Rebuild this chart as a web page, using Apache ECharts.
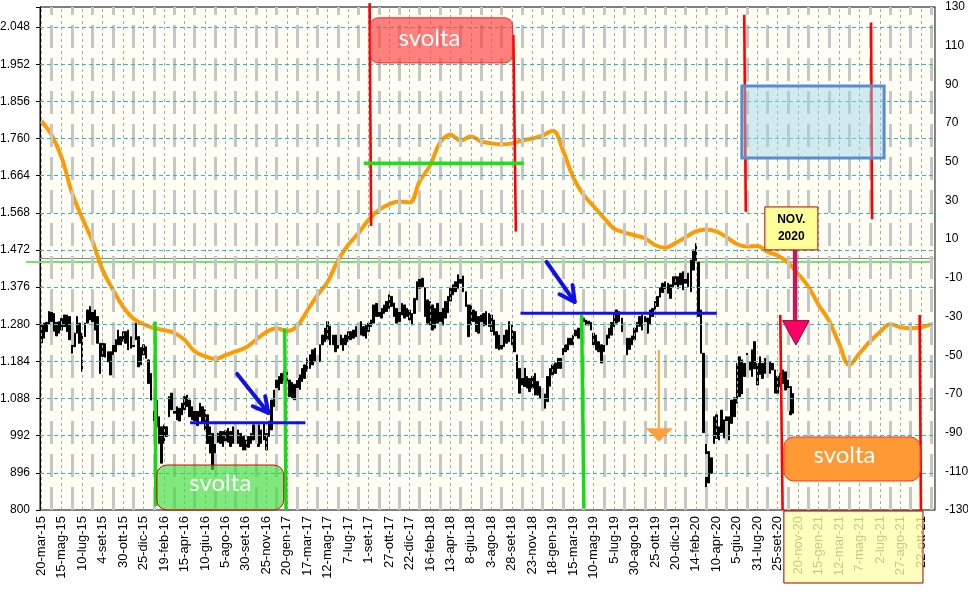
<!DOCTYPE html>
<html><head><meta charset="utf-8">
<script src="https://cdn.jsdelivr.net/npm/echarts@6/dist/echarts.min.js"></script>
<style>html,body{margin:0;padding:0;background:#fff}#c{width:968px;height:594px}</style>
</head><body><div id="c"></div>
<script>
// ---- tick labels (every 8 weeks) ----
const tickLabels = ['20-mar-15','15-mag-15','10-lug-15','4-set-15','30-ott-15','25-dic-15','19-feb-16','15-apr-16','10-giu-16','5-ago-16','30-set-16','25-nov-16','20-gen-17','17-mar-17','12-mag-17','7-lug-17','1-set-17','27-ott-17','22-dic-17','16-feb-18','13-apr-18','8-giu-18','3-ago-18','28-set-18','23-nov-18','18-gen-19','15-mar-19','10-mag-19','5-lug-19','30-ago-19','25-ott-19','20-dic-19','14-feb-20','10-apr-20','5-giu-20','31-lug-20','25-set-20','20-nov-20','15-gen-21','12-mar-21','7-mag-21','2-lug-21','27-ago-21','22-ott-21'];
const weeksTotal = 350;
const labelEvery = 8;

// ---- weekly price bars (high / low) ----
const highs = [
1278,1283,1285,1313,1326,1308,1285,1287,1295,1304,
1304,1300,1275,1257,1300,1283,1257,1283,1317,1326,
1321,1317,1300,1231,1231,1230,1209,1209,1235,1240,
1265,1248,1261,1261,1265,1248,1274,1283,1248,1220,
1227,1222,1188,1153,1110,1084,1041,1015,1020,1015,
1093,1102,1084,1067,1063,1076,1093,1097,1084,1067,
1059,1055,1076,1067,1059,1046,1015,998,990,998,
1003,1003,1005,1011,1003,1015,1024,1007,998,990,
981,990,998,1020,1024,1020,1007,1024,998,1030,
1084,1110,1136,1145,1153,1160,1157,1136,1130,1125,
1135,1149,1166,1175,1192,1201,1214,1218,1195,1227,
1252,1270,1287,1275,1252,1252,1257,1252,1244,1252,
1261,1261,1265,1274,1283,1287,1274,1278,1283,1291,
1330,1334,1330,1321,1330,1339,1356,1352,1335,1321,
1330,1334,1330,1321,1317,1308,1347,1390,1403,1399,
1375,1343,1339,1330,1321,1334,1330,1321,1339,1352,
1373,1382,1390,1408,1420,1405,1364,1330,1330,1317,
1313,1300,1304,1308,1313,1308,1304,1291,1261,1252,
1248,1252,1265,1287,1278,1261,1201,1166,1162,1166,
1145,1140,1145,1153,1132,1119,1106,1100,1145,1166,
1175,1180,1192,1192,1218,1227,1244,1244,1252,1265,
1270,1300,1296,1291,1288,1285,1257,1252,1235,1227,
1235,1252,1270,1285,1308,1317,1313,1296,1278,1244,
1244,1250,1270,1285,1300,1304,1300,1296,1317,1321,
1339,1352,1375,1386,1390,1386,1382,1403,1403,1403,
1412,1416,1420,1412,1446,1472,1489,1440,1317,1205,
1000,951,935,1041,1046,1015,1058,1033,1041,1041,
1084,1090,1179,1196,1188,1179,1205,1183,1214,1235,
1179,1196,1179,1192,1196,1183,1179,1162,1145,1153,
1162,1157,1136,1119,1101];
const lows = [
1232,1244,1261,1280,1287,1262,1250,1257,1265,1274,
1261,1240,1205,1222,1257,1231,1158,1248,1283,1291,
1274,1265,1231,1153,1197,1195,1183,1149,1197,1209,
1227,1227,1236,1231,1214,1218,1222,1240,1170,1175,
1201,1192,1127,1084,1024,1015,972,921,972,990,
1041,1059,1050,1033,1030,1046,1059,1067,1041,1033,
1028,1018,1041,1024,1007,972,947,905,947,975,
972,964,978,975,964,972,995,972,964,955,
955,962,972,981,985,964,972,981,955,990,
1007,1067,1102,1110,1127,1135,1127,1093,1090,1085,
1095,1112,1132,1140,1158,1166,1175,1183,1162,1183,
1227,1235,1240,1227,1227,1209,1218,1227,1212,1227,
1235,1240,1244,1248,1252,1252,1250,1244,1261,1274,
1283,1300,1300,1296,1308,1313,1321,1326,1300,1283,
1287,1304,1296,1300,1291,1278,1308,1343,1373,1377,
1300,1283,1278,1265,1270,1283,1287,1278,1296,1310,
1340,1356,1364,1373,1386,1364,1326,1248,1278,1287,
1261,1257,1270,1276,1278,1274,1261,1252,1218,1214,
1216,1222,1231,1235,1227,1209,1140,1102,1123,1119,
1115,1106,1115,1097,1097,1089,1080,1063,1080,1120,
1149,1153,1166,1166,1192,1209,1214,1227,1227,1250,
1244,1265,1283,1278,1278,1265,1227,1214,1209,1180,
1209,1227,1244,1252,1274,1283,1287,1261,1240,1201,
1215,1227,1240,1260,1275,1265,1274,1257,1280,1300,
1317,1326,1350,1362,1365,1360,1347,1377,1382,1373,
1382,1369,1386,1377,1364,1420,1445,1300,1205,1000,
834,870,895,972,985,981,1000,986,990,981,
1024,1041,1076,1093,1100,1145,1150,1162,1145,1165,
1123,1150,1140,1153,1145,1153,1162,1102,1101,1119,
1127,1110,1084,1046,1050];

// ---- oscillator (right axis), one reading every 4 weeks ----
const oscStep = 4;
const oscValues = [
71,64,52,34,21,9,-6,-16,-25,-31,
-34,-36,-37,-38.5,-42,-48,-50.5,-52,-50,-48,
-46,-42,-38,-36,-37.5,-35,-27,-19,-12,-1,
7,13,20,25,28,29.4,29,40,48,60,
64,61,63,60.5,59.5,59,59.5,61,62,63.5,
66,56,42,33,27,21,15.5,13.5,12,10.5,
7,5.6,8,11,14,15,14,11,7.5,6.2,
6.5,3.5,1.5,-2.2,-8,-14.6,-24,-32,-44,-55,
-49,-43,-38,-34,-35.5,-36,-35.5,-34];

// ---- axis ticks ----
const leftMin = 800, leftStep = 96, leftTop = 2048, leftMax = 2100;
const rightMin = -130, rightMax = 130, rightStep = 20;
const refLevel = 1441;

// ---- build library inputs ----
const cats = [];
for (let i = 0; i < weeksTotal; i++) {
  cats.push(i % labelEvery === 0 && tickLabels[i / labelEvery] ? tickLabels[i / labelEvery] : 'w' + i);
}
const bars = highs.map((h, i) => [lows[i], h, lows[i], h]);
const osc = new Array(weeksTotal).fill(null);
oscValues.forEach((v, k) => { osc[k * oscStep] = v; });

const leftTickVals = [];
for (let v = leftMin + leftStep; v <= leftTop; v += leftStep) leftTickVals.push(v);

const gridMarks = [];
for (let i = 0; i < weeksTotal; i += labelEvery) {
  gridMarks.push({xAxis: cats[i], lineStyle: {color: '#a9a9a9', width: 1, type: [3, 3]}});
  if (i + 4 < weeksTotal) gridMarks.push({xAxis: cats[i + 4], lineStyle: {color: '#c6c6c6', width: 3, type: [23, 10]}});
}
leftTickVals.forEach(v => gridMarks.push({yAxis: v, lineStyle: {color: '#2bbdbd', width: 1, type: [4, 3]}}));

function fmtLeft(v) {
  if ((v - leftMin) % leftStep !== 0 || v > leftTop) return '';
  if (v >= 1000) { const r = v % 1000; return Math.floor(v / 1000) + '.' + String(r).padStart(3, '0'); }
  return String(v);
}

const option = {
  animation: false,
  grid: {left: 40, right: 33, top: 7, bottom: 84, show: true, backgroundColor: '#fffef4',
         borderColor: '#000', borderWidth: 1, containLabel: false, outerBoundsMode: 'none'},
  xAxis: [{
    type: 'category', data: cats, boundaryGap: true,
    axisLine: {show: true, lineStyle: {color: '#888', width: 1}},
    axisTick: {show: false},
    axisLabel: {interval: labelEvery - 1, rotate: 90, margin: 6, color: '#000', fontSize: 13,
                fontFamily: '"Liberation Sans", Arial, sans-serif',
                formatter: (v, idx) => (idx % labelEvery === 0 ? v : '')},
    splitLine: {show: false}
  }],
  yAxis: [{
    type: 'value', min: leftMin, max: leftMax, interval: leftStep, position: 'left',
    axisLine: {show: true, lineStyle: {color: '#000', width: 1}},
    axisTick: {show: true, length: 4, lineStyle: {color: '#000'}},
    axisLabel: {color: '#000', fontSize: 12, margin: 10, fontFamily: '"Liberation Sans", Arial, sans-serif', formatter: fmtLeft},
    splitLine: {show: false}
  }, {
    type: 'value', min: rightMin, max: rightMax, interval: rightStep, position: 'right',
    axisLine: {show: true, lineStyle: {color: '#888', width: 1}},
    axisTick: {show: false},
    axisLabel: {color: '#000', fontSize: 12, margin: 10, fontFamily: '"Liberation Sans", Arial, sans-serif'},
    splitLine: {show: false}
  }],
  series: [{
    type: 'line', data: [], z: 0, silent: true,
    markLine: {silent: true, symbol: 'none', animation: false, label: {show: false},
               emphasis: {disabled: true}, data: gridMarks}
  }, {
    type: 'candlestick', data: bars, z: 2, barWidth: 2, silent: true,
    itemStyle: {color: '#000', color0: '#000', borderColor: '#000', borderColor0: '#000', borderWidth: 1}
  }, {
    type: 'line', data: osc, yAxisIndex: 1, z: 3, connectNulls: true, smooth: 0.4,
    showSymbol: false, symbol: 'none', silent: true,
    lineStyle: {color: '#ff9a00', width: 4}
  }]
};

const chart = echarts.init(document.getElementById('c'), null, {renderer: 'canvas'});
chart.setOption(option);

// ---- annotations, placed in data units through the axes ----
const x0 = chart.convertToPixel({xAxisIndex: 0}, cats[0]);
const xN = chart.convertToPixel({xAxisIndex: 0}, cats[weeksTotal - 1]);
const X = i => x0 + (xN - x0) * i / (weeksTotal - 1);
const Y = v => chart.convertToPixel({yAxisIndex: 0}, v);
const G = [];
function ln(i0, v0, i1, v1, stroke, w, z) {
  G.push({type: 'line', z, silent: true, shape: {x1: X(i0), y1: Y(v0), x2: X(i1), y2: Y(v1)}, style: {stroke, lineWidth: w}});
}
function box(i0, v0, i1, v1, fill, stroke, w, r, z) {
  const xa = X(i0), xb = X(i1), ya = Y(v0), yb = Y(v1);
  G.push({type: 'rect', z, silent: true, shape: {x: Math.min(xa, xb), y: Math.min(ya, yb), width: Math.abs(xb - xa), height: Math.abs(yb - ya), r},
          style: {fill, stroke, lineWidth: w}});
}
function txt(i, v, text, font, fill, z) {
  G.push({type: 'text', z, silent: true, x: X(i), y: Y(v),
          style: {text, font, fill, textAlign: 'center', textVerticalAlign: 'middle', align: 'center', verticalAlign: 'middle'}});
}
function arrow(i0, v0, i1, v1, color, w, z) {
  const ax = X(i0), ay = Y(v0), bx = X(i1), by = Y(v1);
  const ang = Math.atan2(ay - by, ax - bx), L = 17, a = 28 * Math.PI / 180;
  G.push({type: 'line', z, silent: true, shape: {x1: ax, y1: ay, x2: bx, y2: by}, style: {stroke: color, lineWidth: w, lineCap: 'round'}});
  G.push({type: 'polyline', z, silent: true, shape: {points: [[bx + L * Math.cos(ang + a), by + L * Math.sin(ang + a)], [bx, by], [bx + L * Math.cos(ang - a), by + L * Math.sin(ang - a)]]},
          style: {stroke: color, lineWidth: w, lineCap: 'round', lineJoin: 'round', fill: null}});
}

// reference level line
ln(-6, refLevel, 348, refLevel, '#6ce86c', 2, 1);
// green verticals and horizontal
ln(44.5, 1287, 44.8, 810, '#14dc14', 3.5, 6);
ln(95.2, 1270, 95.7, 800, '#14dc14', 3.5, 6);
ln(211.3, 1304, 212.2, 804, '#14dc14', 3.5, 6);
ln(126.1, 1696, 188.7, 1696, '#14e614', 3.5, 6);
// blue levels and arrows
ln(58.2, 1025.7, 103.3, 1025.7, '#1010f0', 3, 6);
ln(187.4, 1308.5, 264.2, 1308.5, '#1010f0', 3, 6);
arrow(76.6, 1151.6, 88.8, 1050.8, '#1010e8', 4, 7);
arrow(197.6, 1441, 208.6, 1337.7, '#1010e8', 4, 7);
// red verticals
[[128.4, 2110, 128.98, 1534], [184.6, 2028, 185.6, 1519.5], [274.9, 2079.7, 275.5, 1571],
 [324.5, 2059.8, 324.9, 1551.6], [289, 1304, 289.9, 800], [343.5, 1304, 344, 800]]
  .forEach(s => ln(s[0], s[1], s[2], s[3], '#ff0000', 2.6, 5));
// boxes
box(45.2, 916.3, 94.8, 800, 'rgba(60,220,60,0.65)', '#e00000', 1, 10, 8);
txt(70, 869, 'svolta', '24px Lato, "Open Sans", sans-serif', '#ffffff', 9);
box(128.7, 2072, 184.3, 1955.6, 'rgba(255,60,60,0.65)', '#ff2020', 1, 8, 8);
txt(151.8, 2020, 'svolta', '24px Lato, "Open Sans", sans-serif', '#ffffff', 9);
box(290.4, 988.7, 343.7, 875, '#ff9933', '#ff3030', 1, 10, 8);
txt(314.1, 942, 'svolta', '24px Lato, "Open Sans", sans-serif', '#ffffff', 9);
box(273.96, 1896, 329.6, 1710, 'rgba(150,210,235,0.45)', '#5b8bd0', 3, 0, 8);
// orange arrow
ln(241.5, 1213.6, 241.5, 1011, '#ffa040', 2, 7);
G.push({type: 'polygon', z: 7, silent: true, shape: {points: [[X(236.4), Y(1011.2)], [X(247), Y(1011.2)], [X(241.5), Y(976.6)]]}, style: {fill: '#ffa040'}});
// NOV. 2020 callout and pink arrow
ln(294.8, 1472, 294.8, 1290, '#c8145a', 4.5, 7);
G.push({type: 'polygon', z: 7, silent: true, shape: {points: [[X(289.9), Y(1289.4)], [X(300.3), Y(1289.4)], [X(295.1), Y(1226.6)]]},
        style: {fill: '#ff0066', stroke: '#8b0030', lineWidth: 1}});
box(282.97, 1583.3, 303.7, 1472.2, '#ffff99', '#c00000', 1, 0, 8);
txt(293.3, 1549.7, 'NOV.', 'bold 12px "Liberation Sans", Arial, sans-serif', '#000', 9);
txt(293.3, 1505.8, '2020', 'bold 12px "Liberation Sans", Arial, sans-serif', '#000', 9);
// future-period highlight over axis labels
const gb = Y(leftMin);
const xa = X(290.4), xb = X(344.8);
G.push({type: 'rect', z: 20, silent: true, shape: {x: xa, y: gb + 1, width: xb - xa, height: 72},
        style: {fill: 'rgba(255,255,170,0.78)', stroke: '#a00000', lineWidth: 1}});

chart.setOption({graphic: {elements: G}});
</script>
</body></html>
